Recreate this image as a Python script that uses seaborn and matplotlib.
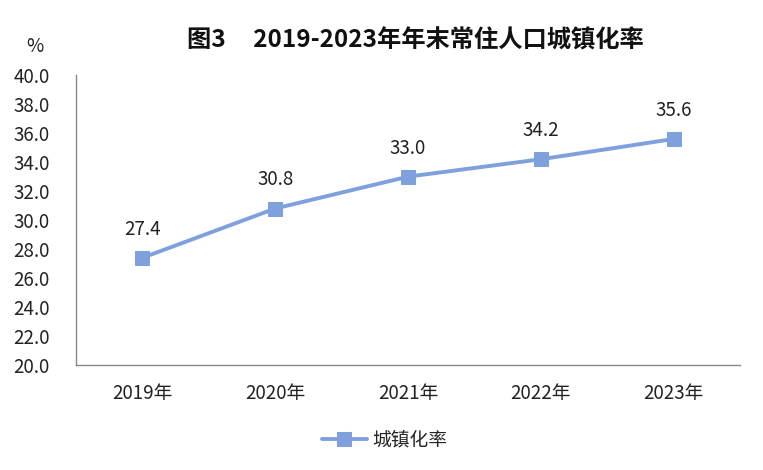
import matplotlib
matplotlib.use("Agg")
import matplotlib.pyplot as plt
import seaborn as sns
import pandas as pd

years = ["2019年", "2020年", "2021年", "2022年", "2023年"]
rates = [27.4, 30.8, 33.0, 34.2, 35.6]
yticks = [20.0, 22.0, 24.0, 26.0, 28.0, 30.0, 32.0, 34.0, 36.0, 38.0, 40.0]

sns.set_style("white")
plt.rcParams['font.family'] = ['Noto Sans CJK SC', 'DejaVu Sans']

df = pd.DataFrame({"year": years, "rate": rates})
color = "#7EA1DD"
fs = 13.5

fig = plt.figure(figsize=(7.63, 4.70), dpi=100)
ax = fig.add_axes([0.0996, 0.2234, 0.8704, 0.6166])
sns.lineplot(data=df, x="year", y="rate", ax=ax, color=color, linewidth=2.8,
             marker="s", markersize=10.5, markeredgecolor=color, label="城镇化率", sort=False)
ax.set_xlim(-0.5, 4.5)
ax.set_ylim(20, 40)
ax.set_yticks(yticks)
ax.set_yticklabels([f"{v:.1f}" for v in yticks], fontsize=fs, color="#222222")
ax.tick_params(axis="x", labelsize=fs, colors="#222222", pad=13, length=0)
ax.tick_params(axis="y", length=0, pad=19)
ax.set_xlabel("")
ax.set_ylabel("")
for s in ["top", "right"]:
    ax.spines[s].set_visible(False)
for s in ["left", "bottom"]:
    ax.spines[s].set_color("#888888")
    ax.spines[s].set_linewidth(1.0)
for i, v in enumerate(rates):
    ax.annotate(f"{v:.1f}", (i, v), xytext=(0, 13), textcoords="offset points",
                ha="center", va="bottom", fontsize=fs, color="#222222")
fig.text(0.046, 0.90, "%", fontsize=fs, ha="center", va="center", color="#222222")
fig.text(0.545, 0.913, "图3     2019-2023年年末常住人口城镇化率", fontsize=17.5, fontweight="bold",
         ha="center", va="center", color="#111111")
leg = ax.legend(loc="upper center", bbox_to_anchor=(0.465, -0.165), frameon=False,
                fontsize=fs, handlelength=2.4, handletextpad=0.3)
fig.savefig("out.png", dpi=100)
